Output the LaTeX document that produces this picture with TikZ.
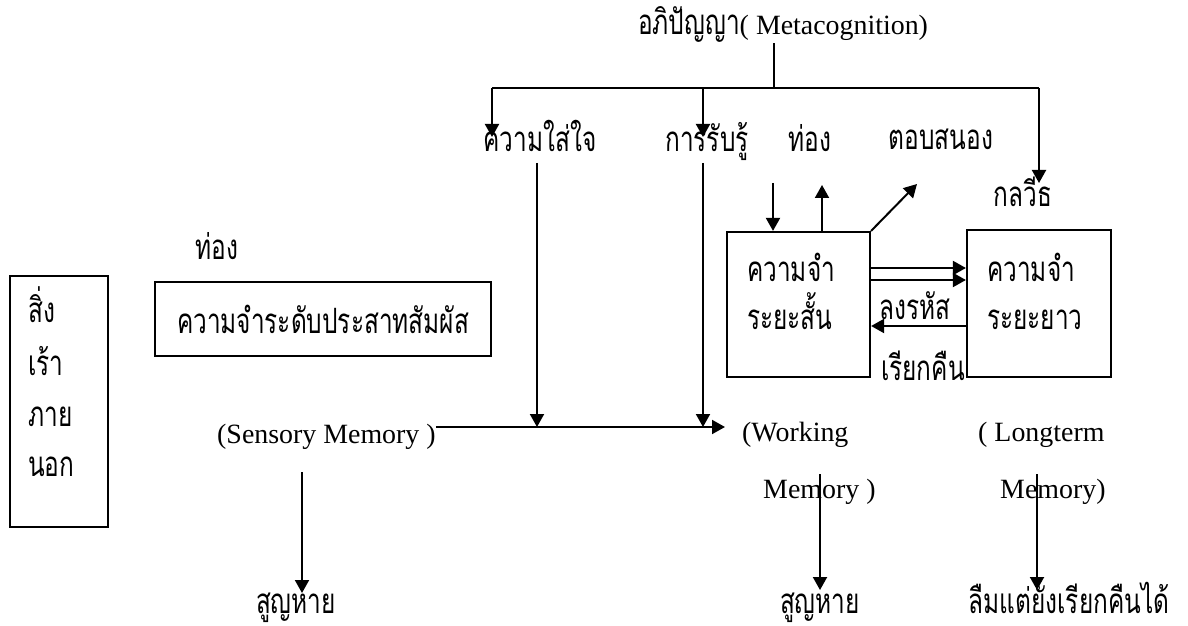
\documentclass[tikz,border=0pt]{standalone}
\usepackage{fontspec}
\setmainfont{Liberation Serif}
\newfontfamily\thaifont[Script=Thai,FakeStretch=0.7]{Loma}
\usetikzlibrary{arrows.meta}
\newcommand{\thsz}{\thaifont\fontsize{35}{40}\selectfont}
\begin{document}
\begin{tikzpicture}[x=1bp,y=-1bp,
  th/.style={font=\thsz, inner sep=0pt, anchor=base},
  la/.style={font=\fontsize{28}{32}\selectfont, inner sep=0pt, anchor=base west},
  ln/.style={line width=2bp},
  arr/.style={line width=2bp, -{Triangle[length=13bp,width=14bp]}},
  box/.style={draw, line width=2.2bp, inner sep=0pt}]
\useasboundingbox (0,0) rectangle (1188,626);
\fill[white] (0,0) rectangle (1188,626);

% metacognition
\node[la] (tl) at (638,35) {{\thsz อภิปัญญา}( Metacognition)};
\coordinate (j) at (774,88);
\coordinate (jl) at (492,88);
\coordinate (jm) at (703,88);
\coordinate (jr) at (1039,88);
\draw[ln] (tl.south -| j) -- (j);
\draw[ln] (jl) -- (jr);
\node[th] (attn) at (540,152) {ความใส่ใจ};
\node[th] (perc) at (707,152) {การรับรู้};
\node[th] (reh) at (810,152) {ท่อง};
\node[th] (resp) at (941,150) {ตอบสนอง};
\node[th] (strat) at (1023,207) {กลวีธ};
\coordinate (ta) at (492,137);
\coordinate (tp) at (703,137);
\coordinate (ts) at (1039,183);
\draw[arr] (jl) -- (ta);
\draw[arr] (jm) -- (tp);
\draw[arr] (jr) -- (ts);

% external stimuli
\node[box, minimum width=98bp, minimum height=251bp] (ext) at (59,401.5) {};
\node[th, anchor=base west] (e1) at (28,323) {สิ่ง};
\node[th, anchor=base west] (e2) at (28,375) {เร้า};
\node[th, anchor=base west] (e3) at (28,426) {ภาย};
\node[th, anchor=base west] (e4) at (28,476) {นอก};

% sensory memory
\node[th] (reh2) at (217,260) {ท่อง};
\node[box, minimum width=336bp, minimum height=74bp, font=\thsz] (sbox) at (323,319) {ความจำระดับประสาทสัมผัส};
\node[la] (smem) at (217,443) {(Sensory Memory )};
\coordinate (m1) at (725,427);
\coordinate (ca0) at (537,163);
\coordinate (ca) at (537,427);
\coordinate (cp0) at (703,163);
\coordinate (cp) at (703,427);
\draw[arr] (smem.east |- m1) -- (m1);
\draw[arr] (ca0) -- (ca);
\draw[arr] (cp0) -- (cp);
\coordinate (s0) at (302,472);
\coordinate (s1) at (302,593);
\draw[arr] (s0) -- (s1);
\node[th] (lost1) at (296,613) {สูญหาย};

% working memory
\node[box, minimum width=143bp, minimum height=145bp] (stm) at (798.5,304.5) {};
\node[th, anchor=base west] at (747,282) {ความจำ};
\node[th, anchor=base west] at (747,330) {ระยะสั้น};
\coordinate (r1) at (773,183);
\coordinate (r2) at (822,185);
\coordinate (rs) at (917,184);
\draw[arr] (r1) -- (r1 |- stm.north);
\draw[arr] (r2 |- stm.north) -- (r2);
\draw[arr] (stm.north east) -- (rs);
\node[la] (wm1) at (742,441) {(Working};
\node[la] (wm2) at (763,498) {Memory )};
\coordinate (w0) at (820,474);
\coordinate (w1) at (820,590);
\draw[arr] (w0) -- (w1);
\node[th] (lost2) at (820,613) {สูญหาย};

% long-term memory
\node[box, minimum width=144bp, minimum height=147bp] (ltm) at (1039,303.5) {};
\node[th, anchor=base west] at (987,282) {ความจำ};
\node[th, anchor=base west] at (987,330) {ระยะยาว};
\coordinate (h1) at (900,268);
\coordinate (h2) at (900,280);
\coordinate (h3) at (900,326);
\draw[arr] (stm.east |- h1) -- (ltm.west |- h1);
\draw[arr] (stm.east |- h2) -- (ltm.west |- h2);
\draw[arr] (ltm.west |- h3) -- (stm.east |- h3);
\node[th] (enc) at (915,320) {ลงรหัส};
\node[th] (ret) at (923,380) {เรียกคืน};
\node[la] (lm1) at (978,441) {( Longterm};
\node[la] (lm2) at (1000,498) {Memory)};
\coordinate (l0) at (1037,474);
\coordinate (l1) at (1037,590);
\draw[arr] (l0) -- (l1);
\node[th] (forget) at (1069,613) {ลืมแต่ยังเรียกคืนได้};
\end{tikzpicture}
\end{document}
